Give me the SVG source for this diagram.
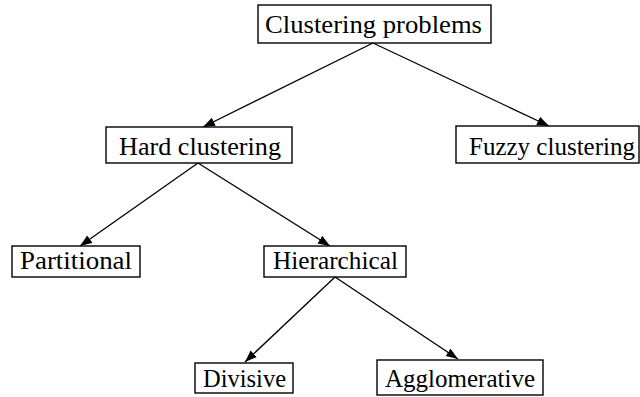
<svg xmlns="http://www.w3.org/2000/svg" width="640" height="397" viewBox="0 0 640 397">
<style>
.box{fill:#fff;stroke:#000;stroke-width:1.4}
.lbl{font-family:"Liberation Serif","DejaVu Serif",serif;font-size:26px;fill:#000}
.edge{stroke:#000;stroke-width:1.3;fill:none;marker-end:url(#ah)}
</style>
<defs>
<marker id="ah" markerUnits="userSpaceOnUse" markerWidth="13" markerHeight="10" refX="12" refY="5" orient="auto">
<path d="M0,0.5 L12,5 L0,9.5 Z" fill="#000"/>
</marker>
</defs>
<rect width="640" height="397" fill="#fff"/>
<g id="connectors">
<line class="edge" x1="373" y1="43" x2="203" y2="127"/>
<line class="edge" x1="373" y1="43" x2="549" y2="126"/>
<line class="edge" x1="198" y1="163" x2="80" y2="246"/>
<line class="edge" x1="198" y1="163" x2="330" y2="246"/>
<line class="edge" x1="335" y1="277" x2="245" y2="362"/>
<line class="edge" x1="335" y1="277" x2="458" y2="359"/>
</g>
<g id="n-root"><rect class="box" x="258" y="5" width="233" height="38"/><text class="lbl" x="265" y="33" textLength="217" lengthAdjust="spacingAndGlyphs">Clustering  problems</text></g>
<g id="n-hard"><rect class="box" x="106" y="127" width="186" height="36"/><text class="lbl" x="119" y="155" textLength="162" lengthAdjust="spacingAndGlyphs">Hard clustering</text></g>
<g id="n-fuzzy"><rect class="box" x="456" y="126" width="183" height="37"/><text class="lbl" x="469" y="155" style="font-size:24.6px" textLength="166" lengthAdjust="spacingAndGlyphs">Fuzzy clustering</text></g>
<g id="n-part"><rect class="box" x="12" y="246" width="128" height="31"/><text class="lbl" x="20" y="269" textLength="112" lengthAdjust="spacingAndGlyphs">Partitional</text></g>
<g id="n-hier"><rect class="box" x="264" y="246" width="142" height="31"/><text class="lbl" x="273" y="269" textLength="125" lengthAdjust="spacingAndGlyphs">Hierarchical</text></g>
<g id="n-div"><rect class="box" x="195" y="363" width="98" height="30"/><text class="lbl" x="203" y="387" textLength="83" lengthAdjust="spacingAndGlyphs">Divisive</text></g>
<g id="n-agg"><rect class="box" x="377" y="360" width="166" height="35"/><text class="lbl" x="385" y="387" textLength="150" lengthAdjust="spacingAndGlyphs">Agglomerative</text></g>
</svg>
